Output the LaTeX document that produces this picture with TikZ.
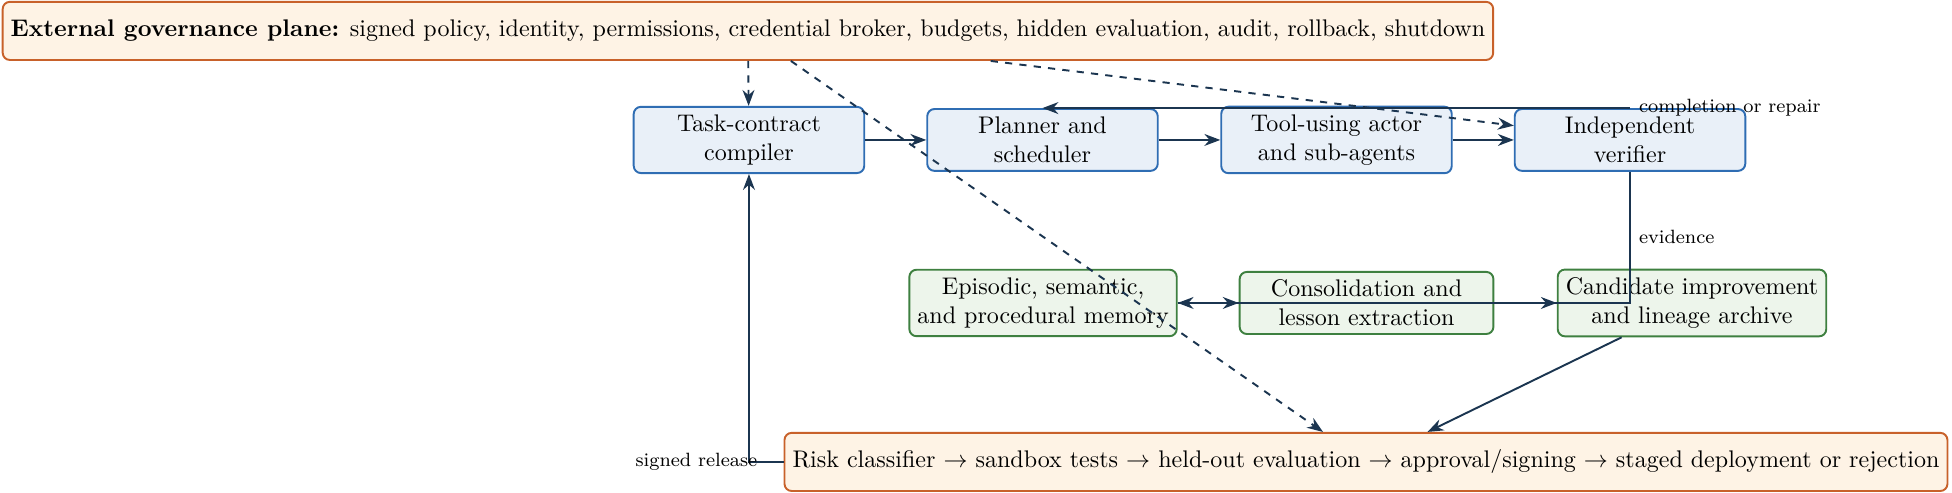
\documentclass[tikz,border=0pt]{standalone}
\usepackage{amsmath, amssymb}
\usepackage{tikz}
\usetikzlibrary{arrows.meta,calc,positioning}
\definecolor{navy}{HTML}{1B3550}
\definecolor{blueedge}{HTML}{2F6DB3}
\definecolor{bluefill}{HTML}{E9F0F8}
\definecolor{greenedge}{HTML}{3E8040}
\definecolor{greenfill}{HTML}{EDF5EB}
\definecolor{orangeedge}{HTML}{C8612A}
\definecolor{orangefill}{HTML}{FEF3E5}

\begin{document}
\begin{tikzpicture}[
    box/.style={draw, thick, rounded corners=3pt, align=center},
    core/.style={box, draw=blueedge, fill=bluefill, minimum width=3.37cm},
    mem/.style={box, draw=greenedge, fill=greenfill, minimum width=3.71cm},
    gate/.style={box, draw=orangeedge, fill=orangefill, minimum height=0.85cm},
    flow/.style={-{Stealth}, thick, navy},
    ctrl/.style={flow, dashed},
    lbl/.style={font=\footnotesize, text=black}
  ]
        \useasboundingbox (-10.949,-5.161) rectangle (17.587,2.046);
        %Draw boxes
        \node[gate] (gov) at (-0.015,1.594) {\textbf{External governance plane:} signed policy, identity, permissions, credential broker, budgets, hidden evaluation, audit, rollback, shutdown};
        \node[core] (task) at (0,0) {Task-contract\\compiler};
        \node[core] (planner) at (4.291,0) {Planner and\\scheduler};
        \node[core] (tool) at (8.589,0) {Tool-using actor\\and sub-agents};
        \node[core] (verifier) at (12.880,0) {Independent\\verifier};
        \node[mem] (memory) at (4.299,-2.383) {Episodic, semantic,\\and procedural memory};
        \node[mem] (consol) at (9.028,-2.383) {Consolidation and\\lesson extraction};
        \node[mem] (candidate) at (13.786,-2.383) {Candidate improvement\\and lineage archive};
        \node[gate] (risk) at (9.020,-4.707) {Risk classifier $\rightarrow$ sandbox tests $\rightarrow$ held-out evaluation $\rightarrow$ approval/signing $\rightarrow$ staged deployment or rejection};
        %Draw arrows
        \draw[flow] (task) -- (planner);
        \draw[flow] (planner) -- (tool);
        \draw[flow] (tool) -- (verifier);
        \draw[flow] (verifier.north) -- (planner.north) node[lbl, pos=0, right] {completion or repair};
        \draw[flow] (verifier.south) |- (memory.east) node[lbl, pos=0.25, right] {evidence};
        \draw[flow] (memory) -- (consol);
        \draw[flow] (consol) -- (candidate);
        \draw[flow] (candidate) -- (risk);
        \draw[flow] (risk.west) -| (task.south) node[lbl, pos=0.25, left] {signed release};
        %Governance links
        \draw[ctrl] (gov) -- (task);
        \draw[ctrl] (gov) -- (verifier);
        \draw[ctrl] (gov) -- (risk);
      \end{tikzpicture}
\end{document}
